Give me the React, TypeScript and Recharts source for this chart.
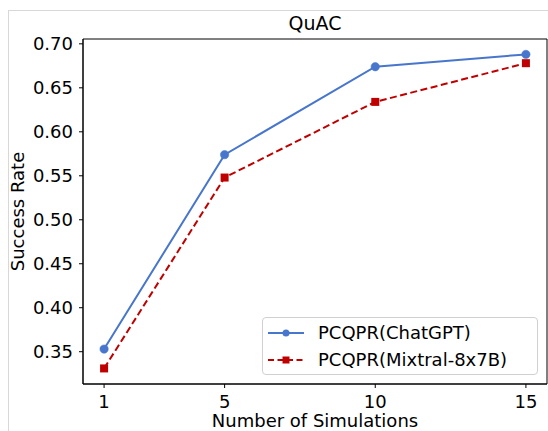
import { LineChart, Line, XAxis, YAxis, ReferenceArea, Legend } from "recharts";

const simulations = [1, 5, 10, 15];
const chatgptRate = [0.353, 0.574, 0.674, 0.688];
const mixtralRate = [0.331, 0.548, 0.634, 0.678];
const seriesNames = ["PCQPR(ChatGPT)", "PCQPR(Mixtral-8x7B)"];
const yTicks = [0.35, 0.4, 0.45, 0.5, 0.55, 0.6, 0.65, 0.7];
const xTicks = [1, 5, 10, 15];

const X_DOMAIN: [number, number] = [0.3, 15.7];
const Y_DOMAIN: [number, number] = [0.3133, 0.7055];
const BLUE = "#4776CC";
const RED = "#C00000";
const FONT = "'DejaVu Sans', sans-serif";

const data = simulations.map((x, i) => ({ x, chatgpt: chatgptRate[i], mixtral: mixtralRate[i] }));

const SquareDot = (props: any) => {
  const { cx, cy, index } = props;
  if (cx == null || cy == null) return null;
  return <rect key={`sq-${index}`} x={cx - 4} y={cy - 4} width={8} height={8} fill={RED} />;
};

const LegendBox = () => (
  <div
    style={{
      width: 274,
      height: 56,
      border: "1px solid #d0d0d0",
      borderRadius: 4,
      background: "rgba(255,255,255,0.9)",
      fontFamily: FONT,
      fontSize: 18,
      color: "#000",
      position: "relative",
    }}
  >
    {seriesNames.map((name, i) => (
      <div key={name} style={{ position: "absolute", left: 0, top: i === 0 ? 3 : 30, height: 24, width: 274 }}>
        <svg width={50} height={24} style={{ position: "absolute", left: 0, top: 0 }}>
          <line
            x1={5}
            x2={41}
            y1={12}
            y2={12}
            stroke={i === 0 ? BLUE : RED}
            strokeWidth={2}
            strokeDasharray={i === 0 ? undefined : "6 3.5"}
          />
          {i === 0 ? (
            <circle cx={23} cy={12} r={3.5} fill={BLUE} />
          ) : (
            <rect x={19.5} y={8.5} width={7} height={7} fill={RED} />
          )}
        </svg>
        <span style={{ position: "absolute", left: 55, top: 0, lineHeight: "24px", whiteSpace: "nowrap" }}>{name}</span>
      </div>
    ))}
  </div>
);

export default function App() {
  return (
    <div style={{ position: "absolute", left: 0, top: 0, width: 548, height: 431, background: "#fff" }}>
      <div
        style={{
          position: "absolute",
          left: 8,
          top: 10,
          right: 0,
          bottom: 0,
          borderTop: "1px solid #d8d8d8",
          borderLeft: "1px solid #d8d8d8",
        }}
      />
      <div
        style={{
          position: "absolute",
          left: 83,
          width: 464,
          top: 14,
          textAlign: "center",
          fontFamily: FONT,
          fontSize: 19,
          lineHeight: "19px",
          color: "#000",
        }}
      >
        QuAC
      </div>
      <div style={{ position: "absolute", left: 0, top: 0 }}>
        <LineChart width={548} height={431} data={data} margin={{ top: 39, right: 1, bottom: 0, left: 0 }}>
          <XAxis
            type="number"
            dataKey="x"
            domain={X_DOMAIN}
            ticks={xTicks}
            allowDataOverflow
            height={47}
            tickSize={4}
            tickMargin={7}
            stroke="#000"
            tick={{ fill: "#000", fontSize: 18, fontFamily: FONT }}
            label={{
              value: "Number of Simulations",
              position: "insideBottom",
              offset: 4,
              fill: "#000",
              fontSize: 18,
              fontFamily: FONT,
            }}
          />
          <YAxis
            type="number"
            domain={Y_DOMAIN}
            ticks={yTicks}
            allowDataOverflow
            width={83}
            tickSize={4}
            tickMargin={6}
            stroke="#000"
            tickFormatter={(v: number) => v.toFixed(2)}
            tick={{ fill: "#000", fontSize: 18, fontFamily: FONT }}
            label={{
              value: "Success Rate",
              angle: -90,
              position: "insideLeft",
              offset: 18,
              fill: "#000",
              fontSize: 18,
              fontFamily: FONT,
              style: { textAnchor: "middle" },
            }}
          />
          <ReferenceArea
            x1={X_DOMAIN[0]}
            x2={X_DOMAIN[1]}
            y1={Y_DOMAIN[0]}
            y2={Y_DOMAIN[1]}
            fill="none"
            fillOpacity={0}
            stroke="#000"
            strokeWidth={1}
          />
          <Line
            type="linear"
            dataKey="chatgpt"
            name={seriesNames[0]}
            stroke={BLUE}
            strokeWidth={2}
            dot={{ r: 4.2, fill: BLUE, stroke: BLUE, strokeWidth: 0.5 }}
            activeDot={false}
            isAnimationActive={false}
          />
          <Line
            type="linear"
            dataKey="mixtral"
            name={seriesNames[1]}
            stroke={RED}
            strokeWidth={2}
            strokeDasharray="7 3.5"
            dot={SquareDot}
            activeDot={false}
            isAnimationActive={false}
          />
          <Legend
            layout="vertical"
            align="center"
            verticalAlign="middle"
            content={<LegendBox />}
            wrapperStyle={{ left: 262, top: 317, width: 276, height: 58 }}
          />
        </LineChart>
      </div>
    </div>
  );
}
